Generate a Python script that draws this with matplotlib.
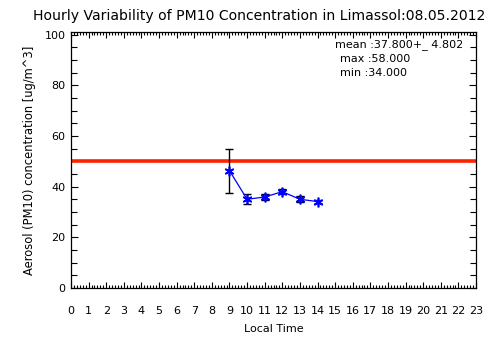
import matplotlib
matplotlib.use("Agg")
import matplotlib.pyplot as plt
from matplotlib.ticker import MultipleLocator, FixedLocator

hours = [9, 10, 11, 12, 13, 14]
pm10 = [46.3, 35.0, 35.9, 38.0, 35.0, 34.1]
err = [8.7, 1.9, 1.0, 0.9, 1.1, 0.5]
limit = 50
xtick_labels = [str(h) for h in range(24)]
title = "Hourly Variability of PM10 Concentration in Limassol:08.05.2012"
stats = ["mean :37.800+_ 4.802", "max :58.000", "min :34.000"]

plt.rcParams['font.family'] = ['DejaVu Sans']
fig = plt.figure(figsize=(5.04, 3.61), dpi=100)
ax = fig.add_axes([71/504, 73/361, 405/504, 256/361])

ax.axhline(limit, color='#ff2200', lw=2.6, zorder=2)
ax.errorbar(hours, pm10, yerr=err, fmt='none', ecolor='black', elinewidth=1.0,
            capsize=3, capthick=1.0, zorder=3)
ax.plot(hours, pm10, color='blue', lw=0.9, marker=(6, 2, 0), ms=7, mew=1.2,
        mec='blue', zorder=4)

ax.set_xlim(0, 23)
ax.set_ylim(0, 101)
ax.xaxis.set_major_locator(FixedLocator(range(24)))
ax.set_xticklabels(xtick_labels)
ax.xaxis.set_minor_locator(MultipleLocator(1/6))
ax.yaxis.set_major_locator(MultipleLocator(20))
ax.yaxis.set_minor_locator(MultipleLocator(5))
ax.tick_params(which='both', direction='in', top=True, right=True, labelsize=8,
               width=0.8, color='black')
ax.tick_params(axis='x', which='major', length=4, pad=13)
ax.tick_params(axis='x', which='minor', length=2)
ax.tick_params(axis='y', which='major', length=5, pad=4)
ax.tick_params(axis='y', which='minor', length=4)
for s in ax.spines.values():
    s.set_linewidth(0.9)

ax.set_xlabel("Local Time", fontsize=8, labelpad=6)
ax.set_ylabel("Aerosol (PM10) concentration [ug/m^3]", fontsize=8.3, labelpad=6)
fig.text(33/504, 1 - 16/361, title, fontsize=10.1, ha='left', va='center')

for i, s in enumerate(stats):
    x = 335 if i == 0 else 340
    fig.text(x/504, 1 - (45 + 14*i)/361, s, fontsize=8, ha='left', va='center')

fig.savefig("out.png", dpi=100)
